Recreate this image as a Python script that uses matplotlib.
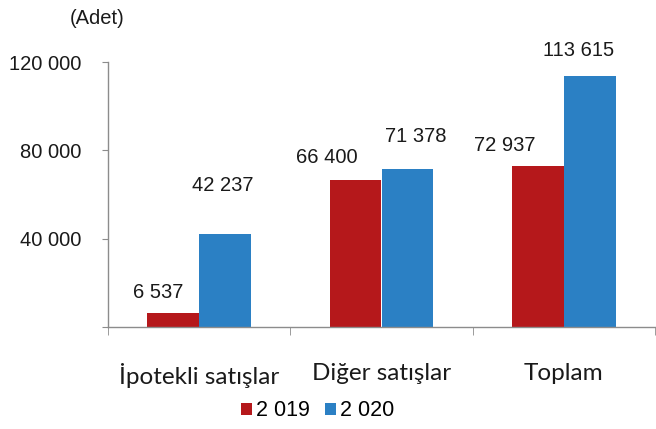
import matplotlib.pyplot as plt
import numpy as np

categories = ['İpotekli satışlar', 'Diğer satışlar', 'Toplam']
series_names = ['2 019', '2 020']
values_2019 = [6537, 66400, 72937]
values_2020 = [42237, 71378, 113615]
y_ticks = [40000, 80000, 120000]

red = '#B5181B'
blue = '#2B80C4'
axis_gray = '#8C8C8C'
txt = '#1a1a1a'
num_size = 14.5

fig = plt.figure(figsize=(6.56, 4.29), dpi=100)
ax = fig.add_axes([108 / 656, 1 - 327 / 429, 547 / 656, 265 / 429])

x = np.arange(len(categories))
w = 0.284
bars1 = ax.bar(x - w / 2, values_2019, w, color=red, label=series_names[0])
bars2 = ax.bar(x + w / 2, values_2020, w, color=blue, label=series_names[1])

ax.set_xlim(-0.5, 2.5)
ax.set_ylim(0, 120000)

# value labels were hand placed in the original, offsets in pixels from bar top
offsets_2019 = [(-15, 20), (-29, 23), (-33, 20)]
offsets_2020 = [(-2, 48), (8, 33), (-11, 26)]
for bars, vals, offs in [(bars1, values_2019, offsets_2019), (bars2, values_2020, offsets_2020)]:
    for b, v, (dx, dy) in zip(bars, vals, offs):
        ax.annotate(f'{v:,}'.replace(',', ' '),
                    (b.get_x() + b.get_width() / 2, b.get_height()),
                    xytext=(dx, dy), textcoords='offset pixels',
                    ha='center', va='center', fontsize=num_size,
                    family='Liberation Sans', color=txt)

for s in ['top', 'right']:
    ax.spines[s].set_visible(False)
for s in ['left', 'bottom']:
    ax.spines[s].set_color(axis_gray)
    ax.spines[s].set_linewidth(1.0)

ax.set_yticks([0] + y_ticks)
ax.set_yticklabels([''] + [f'{v:,}'.replace(',', ' ') for v in y_ticks],
                   family='Liberation Sans', fontsize=num_size, color=txt)
ax.tick_params(axis='y', direction='out', length=4, color=axis_gray, pad=15)

ax.set_xticks(x)
ax.set_xticklabels(categories, family='Lato', fontsize=17.5, color=txt)
ax.set_xticks([-0.5, 0.5, 1.5, 2.5], minor=True)
ax.tick_params(axis='x', which='major', length=0, pad=26)
ax.tick_params(axis='x', which='minor', direction='out', length=6, color=axis_gray)

fig.text(97 / 656, 1 - 18 / 429, '(Adet)', ha='center', va='center',
         fontsize=num_size, family='Liberation Sans', color=txt)

leg = fig.legend(handles=[bars1, bars2], labels=series_names, loc='center',
                 bbox_to_anchor=(318 / 656, 1 - 411 / 429), ncol=2, frameon=False,
                 handlelength=0.5, handleheight=0.5, handletextpad=0.2,
                 columnspacing=0.7, prop={'family': 'Liberation Sans', 'size': 15.5})

plt.savefig('out.png', dpi=100)
